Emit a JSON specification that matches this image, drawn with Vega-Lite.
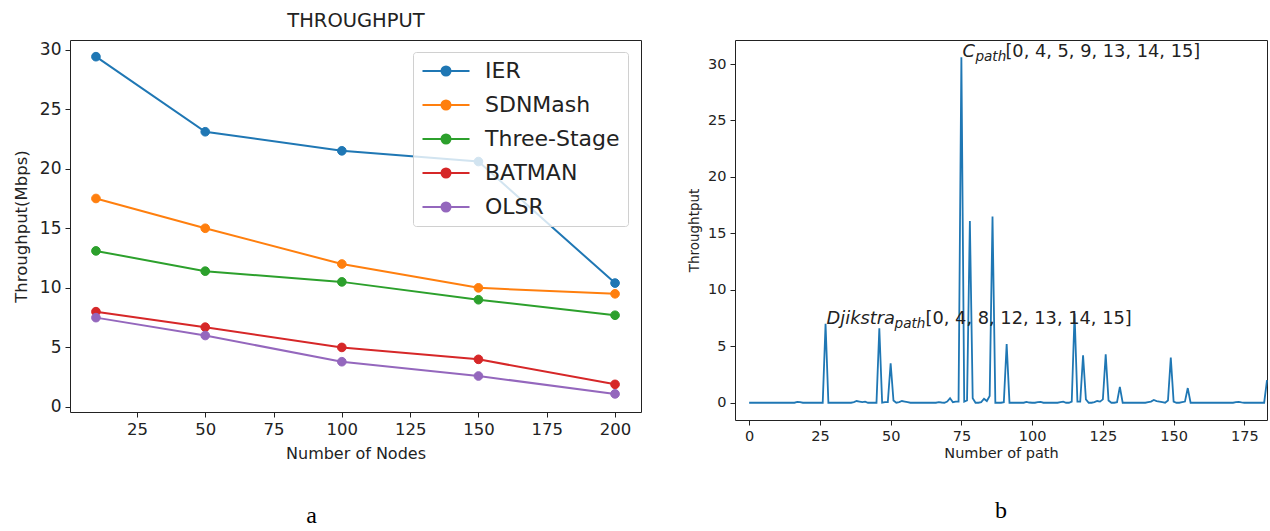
{
  "$schema": "https://vega.github.io/schema/vega-lite/v6.json",
  "background": "white",
  "padding": {"left": 12, "top": 11, "right": 0, "bottom": 0},
  "title": {"text": "THROUGHPUT", "anchor": "start", "align": "center", "frame": "group", "dx": 286, "offset": 8, "fontSize": 19.5, "fontWeight": "normal", "font": "DejaVu Sans", "color": "#222"},
  "bounds": "flush",
  "spacing": 94,
  "datasets": {
    "nodes": [
      {"nodes": 10, "series": "IER", "tp": 29.4}, {"nodes": 50, "series": "IER", "tp": 23.1}, {"nodes": 100, "series": "IER", "tp": 21.5}, {"nodes": 150, "series": "IER", "tp": 20.6}, {"nodes": 200, "series": "IER", "tp": 10.4},
      {"nodes": 10, "series": "SDNMash", "tp": 17.5}, {"nodes": 50, "series": "SDNMash", "tp": 15.0}, {"nodes": 100, "series": "SDNMash", "tp": 12.0}, {"nodes": 150, "series": "SDNMash", "tp": 10.0}, {"nodes": 200, "series": "SDNMash", "tp": 9.5},
      {"nodes": 10, "series": "Three-Stage", "tp": 13.1}, {"nodes": 50, "series": "Three-Stage", "tp": 11.4}, {"nodes": 100, "series": "Three-Stage", "tp": 10.5}, {"nodes": 150, "series": "Three-Stage", "tp": 9.0}, {"nodes": 200, "series": "Three-Stage", "tp": 7.7},
      {"nodes": 10, "series": "BATMAN", "tp": 8.0}, {"nodes": 50, "series": "BATMAN", "tp": 6.7}, {"nodes": 100, "series": "BATMAN", "tp": 5.0}, {"nodes": 150, "series": "BATMAN", "tp": 4.0}, {"nodes": 200, "series": "BATMAN", "tp": 1.9},
      {"nodes": 10, "series": "OLSR", "tp": 7.5}, {"nodes": 50, "series": "OLSR", "tp": 6.0}, {"nodes": 100, "series": "OLSR", "tp": 3.8}, {"nodes": 150, "series": "OLSR", "tp": 2.6}, {"nodes": 200, "series": "OLSR", "tp": 1.1}
    ],
    "paths": [
      {"p":0,"t":0},{"p":1,"t":0},{"p":2,"t":0},{"p":3,"t":0},{"p":4,"t":0},{"p":5,"t":0},{"p":6,"t":0},{"p":7,"t":0},{"p":8,"t":0},{"p":9,"t":0},
      {"p":10,"t":0},{"p":11,"t":0},{"p":12,"t":0},{"p":13,"t":0},{"p":14,"t":0},{"p":15,"t":0},{"p":16,"t":0},{"p":17,"t":0.08},{"p":18,"t":0.05},{"p":19,"t":0},
      {"p":20,"t":0},{"p":21,"t":0},{"p":22,"t":0},{"p":23,"t":0},{"p":24,"t":0},{"p":25,"t":0},{"p":26,"t":0},{"p":27,"t":7.0},{"p":28,"t":0},{"p":29,"t":0},
      {"p":30,"t":0},{"p":31,"t":0},{"p":32,"t":0},{"p":33,"t":0},{"p":34,"t":0},{"p":35,"t":0},{"p":36,"t":0},{"p":37,"t":0.05},{"p":38,"t":0.15},{"p":39,"t":0.1},
      {"p":40,"t":0.05},{"p":41,"t":0.1},{"p":42,"t":0},{"p":43,"t":0},{"p":44,"t":0},{"p":45,"t":0},{"p":46,"t":6.6},{"p":47,"t":0},{"p":48,"t":0.05},{"p":49,"t":0.05},
      {"p":50,"t":3.5},{"p":51,"t":0.2},{"p":52,"t":0},{"p":53,"t":0.05},{"p":54,"t":0.15},{"p":55,"t":0.1},{"p":56,"t":0.05},{"p":57,"t":0},{"p":58,"t":0},{"p":59,"t":0},
      {"p":60,"t":0},{"p":61,"t":0},{"p":62,"t":0},{"p":63,"t":0},{"p":64,"t":0},{"p":65,"t":0},{"p":66,"t":0},{"p":67,"t":0.05},{"p":68,"t":0.02},{"p":69,"t":0},
      {"p":70,"t":0.1},{"p":71,"t":0.4},{"p":72,"t":0.05},{"p":73,"t":0.1},{"p":74,"t":0.1},{"p":75,"t":30.6},{"p":76,"t":0.1},{"p":77,"t":0.2},{"p":78,"t":16.1},{"p":79,"t":0.4},
      {"p":80,"t":0},{"p":81,"t":0},{"p":82,"t":0.05},{"p":83,"t":0.35},{"p":84,"t":0.15},{"p":85,"t":0.6},{"p":86,"t":16.5},{"p":87,"t":0},{"p":88,"t":0},{"p":89,"t":0},
      {"p":90,"t":0.05},{"p":91,"t":5.2},{"p":92,"t":0},{"p":93,"t":0},{"p":94,"t":0},{"p":95,"t":0},{"p":96,"t":0},{"p":97,"t":0},{"p":98,"t":0.08},{"p":99,"t":0.02},
      {"p":100,"t":0},{"p":101,"t":0},{"p":102,"t":0.05},{"p":103,"t":0.08},{"p":104,"t":0},{"p":105,"t":0},{"p":106,"t":0},{"p":107,"t":0},{"p":108,"t":0},{"p":109,"t":0},
      {"p":110,"t":0.05},{"p":111,"t":0.1},{"p":112,"t":0},{"p":113,"t":0},{"p":114,"t":0.1},{"p":115,"t":7.9},{"p":116,"t":0.1},{"p":117,"t":0.1},{"p":118,"t":4.2},{"p":119,"t":0.3},
      {"p":120,"t":0},{"p":121,"t":0},{"p":122,"t":0.05},{"p":123,"t":0.15},{"p":124,"t":0.1},{"p":125,"t":0.3},{"p":126,"t":4.3},{"p":127,"t":0.2},{"p":128,"t":0},{"p":129,"t":0},
      {"p":130,"t":0.05},{"p":131,"t":1.4},{"p":132,"t":0},{"p":133,"t":0},{"p":134,"t":0},{"p":135,"t":0},{"p":136,"t":0},{"p":137,"t":0},{"p":138,"t":0},{"p":139,"t":0},
      {"p":140,"t":0},{"p":141,"t":0.05},{"p":142,"t":0.1},{"p":143,"t":0.25},{"p":144,"t":0.15},{"p":145,"t":0.1},{"p":146,"t":0.05},{"p":147,"t":0},{"p":148,"t":0.2},{"p":149,"t":4.0},
      {"p":150,"t":0.1},{"p":151,"t":0},{"p":152,"t":0},{"p":153,"t":0.05},{"p":154,"t":0.1},{"p":155,"t":1.3},{"p":156,"t":0},{"p":157,"t":0},{"p":158,"t":0},{"p":159,"t":0},
      {"p":160,"t":0},{"p":161,"t":0},{"p":162,"t":0},{"p":163,"t":0},{"p":164,"t":0},{"p":165,"t":0},{"p":166,"t":0},{"p":167,"t":0},{"p":168,"t":0},{"p":169,"t":0},
      {"p":170,"t":0},{"p":171,"t":0},{"p":172,"t":0.05},{"p":173,"t":0.08},{"p":174,"t":0.03},{"p":175,"t":0},{"p":176,"t":0},{"p":177,"t":0},{"p":178,"t":0},{"p":179,"t":0},
      {"p":180,"t":0},{"p":181,"t":0},{"p":182,"t":0},{"p":183,"t":2.0}
    ],
    "notes": [
      {"x": 75, "y": 30.6, "main": "C", "sub": "path", "rest": "[0, 4, 5, 9, 13, 14, 15]"},
      {"x": 27, "y": 7.0, "main": "Djikstra", "sub": "path", "rest": "[0, 4, 8, 12, 13, 14, 15]"}
    ]
  },
  "hconcat": [
    {
      "width": 571,
      "height": 372,
      "title": {"text": "a", "orient": "bottom", "anchor": "middle", "frame": "group", "dx": -44, "offset": 61, "baseline": "alphabetic", "font": "Liberation Serif", "fontSize": 24, "fontWeight": "normal", "color": "black"},
      "data": {"name": "nodes"},
      "layer": [
        {
          "mark": {"type": "line", "strokeWidth": 2},
          "encoding": {
            "x": {"field": "nodes", "type": "quantitative", "scale": {"domain": [0.5, 209.5], "nice": false, "zero": false},
                  "axis": {"title": "Number of Nodes", "values": [25, 50, 75, 100, 125, 150, 175, 200], "labelFontSize": 16.5, "titleFontSize": 16, "labelPadding": 4, "titlePadding": 8, "labelFlush": false, "labelOverlap": false}},
            "y": {"field": "tp", "type": "quantitative", "scale": {"domain": [-0.42, 30.8], "nice": false, "zero": false},
                  "axis": {"title": "Throughput(Mbps)", "values": [0, 5, 10, 15, 20, 25, 30], "labelFontSize": 17, "titleFontSize": 16.5, "labelPadding": 4, "titlePadding": 10, "labelFlush": false, "labelOverlap": false}},
            "stroke": {"field": "series", "type": "nominal",
                       "scale": {"domain": ["IER", "SDNMash", "Three-Stage", "BATMAN", "OLSR"], "range": ["#1f77b4", "#ff7f0e", "#2ca02c", "#d62728", "#9467bd"]},
                       "legend": {"title": null, "orient": "none", "legendX": 343, "legendY": 12, "symbolType": "M-2.35,0H2.35M-0.45,0A0.45,0.45,0,1,1,0.45,0A0.45,0.45,0,1,1,-0.45,0Z", "symbolSize": 400, "symbolStrokeWidth": 2, "symbolOffset": 14, "labelOffset": 28, "labelFontSize": 22, "labelFont": "DejaVu Sans", "labelColor": "#222", "rowPadding": 12, "padding": 8, "strokeColor": "#d0d0d0", "fillColor": "rgba(255,255,255,0.8)", "cornerRadius": 3}}
          }
        },
        {
          "mark": {"type": "point", "filled": true, "size": 75, "opacity": 1, "strokeWidth": 1},
          "encoding": {
            "x": {"field": "nodes", "type": "quantitative"},
            "y": {"field": "tp", "type": "quantitative"},
            "stroke": {"field": "series", "type": "nominal"},
            "fill": {"field": "series", "type": "nominal",
                     "scale": {"domain": ["IER", "SDNMash", "Three-Stage", "BATMAN", "OLSR"], "range": ["#1f77b4", "#ff7f0e", "#2ca02c", "#d62728", "#9467bd"]},
                     "legend": {"title": null, "orient": "none", "legendX": 343, "legendY": 12, "symbolType": "M-2.35,0H2.35M-0.45,0A0.45,0.45,0,1,1,0.45,0A0.45,0.45,0,1,1,-0.45,0Z", "symbolSize": 400, "symbolStrokeWidth": 2, "symbolOffset": 14, "labelOffset": 28, "labelFontSize": 22, "labelFont": "DejaVu Sans", "labelColor": "#222", "rowPadding": 12, "padding": 8, "strokeColor": "#d0d0d0", "fillColor": "rgba(255,255,255,0.8)", "cornerRadius": 3}}
          }
        }
      ]
    },
    {
      "width": 532,
      "height": 380,
      "title": {"text": "b", "orient": "bottom", "anchor": "middle", "frame": "group", "dx": 0, "offset": 58, "baseline": "alphabetic", "font": "Liberation Serif", "fontSize": 24, "fontWeight": "normal", "color": "black"},
      "layer": [
        {
          "data": {"name": "paths"},
          "mark": {"type": "line", "strokeWidth": 1.8, "color": "#1f77b4"},
          "encoding": {
            "x": {"field": "p", "type": "quantitative", "scale": {"domain": [-5, 183], "nice": false, "zero": false},
                  "axis": {"title": "Number of path", "values": [0, 25, 50, 75, 100, 125, 150, 175], "labelFontSize": 14.5, "titleFontSize": 14.5, "labelPadding": 4, "titlePadding": 4, "labelFlush": false, "labelOverlap": false}},
            "y": {"field": "t", "type": "quantitative", "scale": {"domain": [-1.53, 32.13], "nice": false, "zero": false},
                  "axis": {"title": "Throughtput", "values": [0, 5, 10, 15, 20, 25, 30], "labelFontSize": 14.5, "titleFontSize": 13.5, "labelPadding": 4, "titlePadding": 6, "labelFlush": false, "labelOverlap": false}}
          }
        },
        {
          "data": {"name": "notes"},
          "mark": {"type": "text", "align": "left", "baseline": "alphabetic", "fontSize": 17.8, "fontStyle": "italic", "font": "DejaVu Sans", "color": "#222", "dx": 1},
          "encoding": {
            "x": {"field": "x", "type": "quantitative"},
            "y": {"field": "y", "type": "quantitative"},
            "text": {"field": "main"}
          }
        },
        {
          "data": {"name": "notes"},
          "transform": [{"filter": "datum.main == 'C'"}],
          "mark": {"type": "text", "align": "left", "baseline": "alphabetic", "fontSize": 13.6, "fontStyle": "italic", "font": "DejaVu Sans", "color": "#222", "dx": 14, "dy": 4},
          "encoding": {
            "x": {"field": "x", "type": "quantitative"},
            "y": {"field": "y", "type": "quantitative"},
            "text": {"field": "sub"}
          }
        },
        {
          "data": {"name": "notes"},
          "transform": [{"filter": "datum.main == 'C'"}],
          "mark": {"type": "text", "align": "left", "baseline": "alphabetic", "fontSize": 17.8, "font": "DejaVu Sans", "color": "#222", "dx": 44},
          "encoding": {
            "x": {"field": "x", "type": "quantitative"},
            "y": {"field": "y", "type": "quantitative"},
            "text": {"field": "rest"}
          }
        },
        {
          "data": {"name": "notes"},
          "transform": [{"filter": "datum.main == 'Djikstra'"}],
          "mark": {"type": "text", "align": "left", "baseline": "alphabetic", "fontSize": 13.6, "fontStyle": "italic", "font": "DejaVu Sans", "color": "#222", "dx": 69, "dy": 4},
          "encoding": {
            "x": {"field": "x", "type": "quantitative"},
            "y": {"field": "y", "type": "quantitative"},
            "text": {"field": "sub"}
          }
        },
        {
          "data": {"name": "notes"},
          "transform": [{"filter": "datum.main == 'Djikstra'"}],
          "mark": {"type": "text", "align": "left", "baseline": "alphabetic", "fontSize": 17.8, "font": "DejaVu Sans", "color": "#222", "dx": 100},
          "encoding": {
            "x": {"field": "x", "type": "quantitative"},
            "y": {"field": "y", "type": "quantitative"},
            "text": {"field": "rest"}
          }
        }
      ]
    }
  ],
  "config": {
    "font": "DejaVu Sans",
    "view": {"stroke": "#222", "strokeWidth": 1},
    "axis": {"domain": false, "grid": false, "tickColor": "#222", "tickSize": 5, "labelColor": "#222", "titleColor": "#222", "titleFontWeight": "normal", "labelFont": "DejaVu Sans", "titleFont": "DejaVu Sans"}
  }
}
